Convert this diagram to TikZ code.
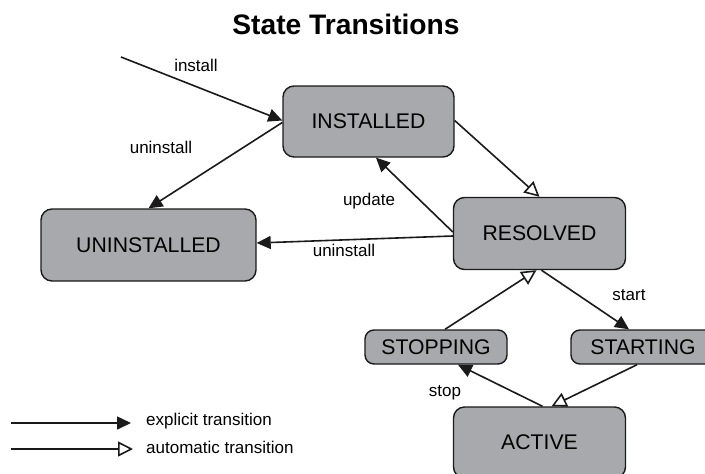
\documentclass[tikz,border=0pt]{standalone}
\usepackage{fontspec}
\setmainfont{Liberation Sans}
\usetikzlibrary{arrows.meta}
\definecolor{stategray}{RGB}{168,169,172}
\definecolor{inkline}{RGB}{26,26,26}
\begin{document}
\begin{tikzpicture}[x=1pt,y=-1pt,
  state/.style={draw=inkline, line width=1.4pt, fill=stategray, rounded corners=11pt,
    inner sep=0pt, font=\fontsize{21.2}{25}\selectfont},
  explicit/.style={draw=inkline, line width=1.6pt, -{Triangle[length=14pt,width=13pt]}},
  automatic/.style={draw=inkline, line width=1.6pt, -{Triangle[open,length=15pt,width=15pt,fill=white]}},
  lbl/.style={font=\fontsize{17}{20}\selectfont, inner sep=0pt}]
\useasboundingbox (0,0) rectangle (705,474);

% title
\node[font=\bfseries\fontsize{28.2}{33}\selectfont] (title) at (346,24) {State Transitions};

% states
\node[state, minimum width=171pt, minimum height=71pt] (inst) at (368.5,121.5) {INSTALLED};
\node[state, minimum width=215pt, minimum height=72pt] (uninst) at (148.5,245) {UNINSTALLED};
\node[state, minimum width=172pt, minimum height=72pt] (res) at (539.5,233.5) {RESOLVED};
\node[state, minimum width=142pt, minimum height=34pt, rounded corners=9pt] (stopping) at (436,347) {STOPPING};
\node[state, minimum width=144pt, minimum height=34pt, rounded corners=9pt] (starting) at (643,347) {STARTING};
\node[state, minimum width=172pt, minimum height=71pt] (act) at (539.5,442.5) {ACTIVE};

% transitions
\coordinate (entry) at (121,57);
\draw[explicit] (entry) -- ([yshift=1pt]inst.west);
\node[lbl] (linstall) at (196,65) {install};

\draw[explicit] ([yshift=-1pt]inst.west) -- (uninst.north);
\node[lbl] (luninstA) at (161,147) {uninstall};

\draw[automatic] ([yshift=1pt]inst.east) -- (res.north);

\draw[explicit] ([yshift=1.5pt]res.west) -- ([xshift=7.5pt]inst.south);
\node[lbl] (lupdate) at (369,201) {update};

\draw[explicit] ([yshift=-2.5pt]res.west) -- ([yshift=2pt]uninst.east);
\node[lbl] (luninstB) at (344,250) {uninstall};

\draw[automatic] ([xshift=9pt]stopping.north) -- ([xshift=-3pt]res.south);

\draw[explicit] ([xshift=2pt]res.south) -- ([xshift=-14pt]starting.north);
\node[lbl] (lstart) at (629,295) {start};

\draw[explicit] ([xshift=3pt]act.north) -- ([xshift=22pt]stopping.south);
\node[lbl] (lstop) at (445,393) {stop};

\draw[automatic] ([xshift=-6pt]starting.south) -- ([xshift=12pt]act.north);

% legend
\coordinate (leA) at (11,423);
\coordinate (leB) at (131,423);
\coordinate (laA) at (11,449);
\coordinate (laB) at (133,449);
\draw[explicit] (leA) -- (leB);
\draw[automatic] (laA) -- (laB);
\node[lbl, anchor=west] (lexp) at (146,421) {explicit transition};
\node[lbl, anchor=west] (laut) at (146,447) {automatic transition};
\end{tikzpicture}
\end{document}
